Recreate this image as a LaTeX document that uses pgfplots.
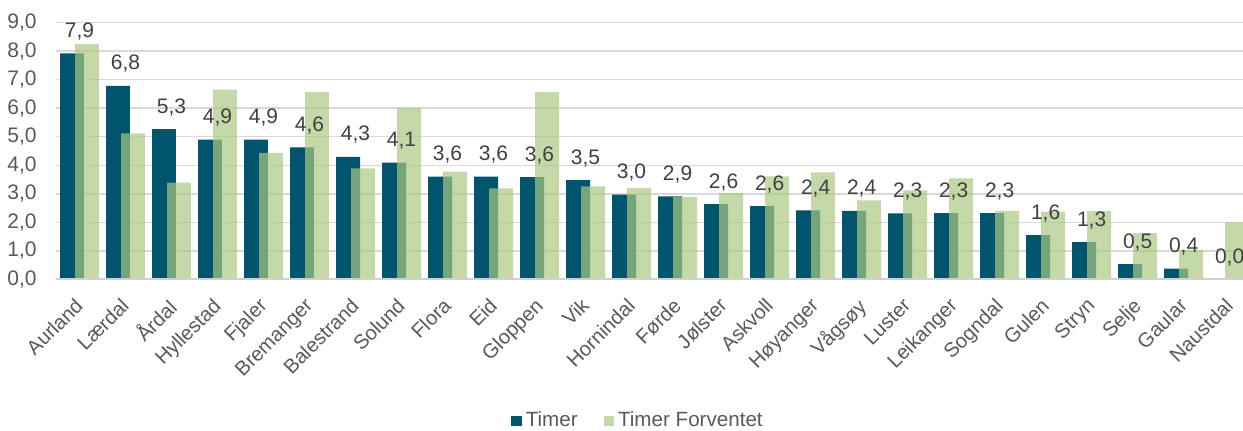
\documentclass[border=0pt]{standalone}
\usepackage{pgfplots}
\pgfplotsset{compat=1.18}
\usepackage{fontspec}
\setmainfont{Liberation Sans}
\definecolor{darkteal}{RGB}{0,84,110}
\definecolor{lgreen}{RGB}{171,200,129}
\definecolor{gridgray}{RGB}{217,217,217}
\definecolor{axgray}{RGB}{208,208,208}
\definecolor{ticktext}{RGB}{89,89,89}
\definecolor{labtext}{RGB}{64,64,64}
\begin{document}
\begin{tikzpicture}
\pgfplotsset{
  sqlegend/.style={legend image code/.code={\fill[##1] (0pt,-2.6pt) rectangle (5.2pt,2.6pt);}},
}
\begin{axis}[
  at={(0,0)}, anchor=south west,
  scale only axis,
  width=593.25pt, height=128.3pt,
  xmin=-0.5, xmax=25.29,
  ymin=0, ymax=9,
  clip=true,
  axis line style={draw=none},
  major tick length=0pt,
  ytick={0,1,...,9},
  ymajorgrids,
  grid style={color=gridgray, line width=0.75pt},
  /pgf/number format/.cd, fixed, fixed zerofill, precision=1, use comma, assume math mode=true,
  /pgfplots/.cd,
  yticklabel style={font=\fontsize{10.5}{12}\selectfont, text=ticktext, anchor=east, xshift=-6.4pt},
  xtick={0,1,...,25},
  xticklabels={Aurland,Lærdal,Årdal,Hyllestad,Fjaler,Bremanger,Balestrand,Solund,Flora,Eid,Gloppen,Vik,Hornindal,Førde,Jølster,Askvoll,Høyanger,Vågsøy,Luster,Leikanger,Sogndal,Gulen,Stryn,Selje,Gaular,Naustdal},
  xticklabel style={font=\fontsize{10.1}{12}\selectfont, text=ticktext, xshift=-2.85pt, yshift=-8.5pt, rotate=45, anchor=north east, inner sep=0pt},
  legend style={draw=none, fill=none, legend columns=2, at={(0.491,-0.552)}, anchor=center,
    font=\fontsize{10.3}{12}\selectfont, text=ticktext,
    /tikz/every even column/.append style={column sep=11pt},
    /tikz/every odd column/.append style={column sep=0pt},
    legend cell align=left, inner sep=0pt},
]
\addplot[ybar, bar width=0.52, bar shift=-0.163, fill=darkteal, draw=none, sqlegend,
  nodes near coords={\pgfmathprintnumber[fixed,fixed zerofill,precision=1,use comma,assume math mode=true]{\pgfplotspointmeta}},
  every node near coord/.append style={font=\fontsize{10.5}{12}\selectfont, text=labtext, anchor=base, yshift=8pt},
  point meta=y]
coordinates {
(0,7.92) (1,6.78) (2,5.27) (3,4.90) (4,4.90) (5,4.63) (6,4.29) (7,4.09) (8,3.60) (9,3.60)
(10,3.58) (11,3.48) (12,2.97) (13,2.91) (14,2.64) (15,2.57) (16,2.42) (17,2.40) (18,2.31) (19,2.32)
(20,2.32) (21,1.55) (22,1.30) (23,0.53) (24,0.37) (25,0.0)
};
\addlegendentry{Timer}
\addplot[ybar, bar width=0.52, bar shift=0.163, fill=lgreen, fill opacity=0.69, draw=none, sqlegend]
coordinates {
(0,8.26) (1,5.12) (2,3.39) (3,6.65) (4,4.43) (5,6.57) (6,3.89) (7,6.00) (8,3.78) (9,3.19)
(10,6.57) (11,3.26) (12,3.21) (13,2.89) (14,3.03) (15,3.61) (16,3.75) (17,2.77) (18,3.12) (19,3.54)
(20,2.40) (21,2.37) (22,2.39) (23,1.62) (24,1.03) (25,2.00)
};
\addlegendentry{Timer Forventet}
\draw[axgray, line width=1.1pt] (rel axis cs:0,0) -- (rel axis cs:1,0);
\end{axis}
\pgfresetboundingbox
\path[use as bounding box] (-28.25pt,-75.85pt) rectangle (593.25pt,139.65pt);
\end{tikzpicture}
\end{document}
